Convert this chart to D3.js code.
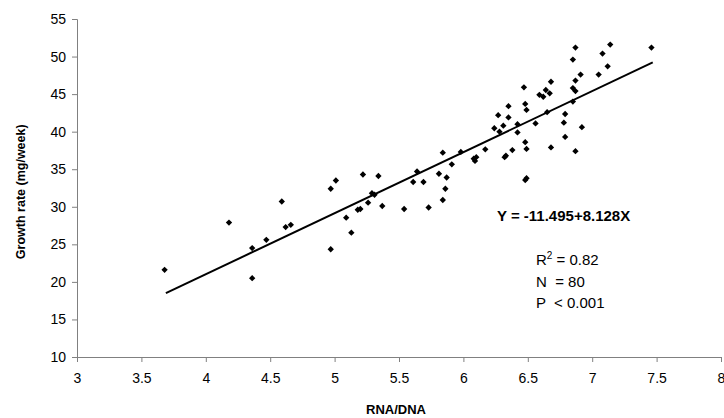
<!DOCTYPE html>
<html>
<head>
<meta charset="utf-8">
<script src="https://cdn.jsdelivr.net/npm/d3@7"></script>
<style>
  body { margin: 0; background: #fff; }
  svg { display: block; font-family: "Liberation Sans", Arial, sans-serif; }
  .axis path, .axis line { stroke: #808080; }
  .axis text { fill: #000; font-size: 14px; }
</style>
</head>
<body>
<svg width="724" height="418"></svg>
<script>
// RNA/DNA values (x)
const rnaDna = [
  3.68, 4.18, 4.36, 4.36, 4.47, 4.59, 4.62, 4.66, 4.97, 4.97,
  5.01, 5.09, 5.13, 5.18, 5.20, 5.22, 5.26, 5.29, 5.31, 5.34,
  5.37, 5.54, 5.61, 5.64, 5.69, 5.73, 5.81, 5.84, 5.84, 5.86,
  5.87, 5.91, 5.98, 6.08, 6.10, 6.09, 6.17, 6.24, 6.27, 6.28,
  6.31, 6.33, 6.32, 6.35, 6.35, 6.38, 6.42, 6.42, 6.47, 6.48,
  6.49, 6.48, 6.49, 6.48, 6.49, 6.56, 6.59, 6.62, 6.64, 6.67,
  6.65, 6.68, 6.68, 6.78, 6.79, 6.79, 6.85, 6.87, 6.85, 6.87,
  6.87, 6.91, 6.92, 6.87, 6.85, 7.05, 7.08, 7.12, 7.14, 7.46
];
// growth rate (mg/week), same order
const growth = [
  21.6, 27.9, 24.5, 20.5, 25.6, 30.7, 27.3, 27.6, 24.35, 32.4,
  33.5, 28.55, 26.55, 29.6, 29.7, 34.3, 30.55, 31.8, 31.6, 34.1,
  30.1, 29.7, 33.3, 34.7, 33.3, 29.9, 34.4, 37.2, 30.9, 32.4,
  33.9, 35.65, 37.3, 36.4, 36.6, 36.1, 37.65, 40.45, 42.2, 40.0,
  40.8, 36.8, 36.6, 43.4, 41.9, 37.55, 41.0, 39.9, 45.9, 43.7,
  42.9, 38.6, 37.7, 33.55, 33.8, 41.1, 44.9, 44.65, 45.55, 45.1,
  42.6, 46.65, 37.9, 41.2, 42.35, 39.3, 45.8, 45.4, 44.0, 46.8,
  37.4, 47.6, 40.6, 51.2, 49.6, 47.6, 50.4, 48.7, 51.6, 51.2
];
const xTicks = [3, 3.5, 4, 4.5, 5, 5.5, 6, 6.5, 7, 7.5, 8];
const yTicks = [10, 15, 20, 25, 30, 35, 40, 45, 50, 55];

// fitted line Y = a + bX
const intercept = -11.495, slope = 8.128;
const fitRange = [3.69, 7.47];

const points = rnaDna.map((x, i) => ({ x, y: growth[i] }));

const svg = d3.select("svg");
const margin = { left: 77, right: 3, top: 19, bottom: 61 };
const width = +svg.attr("width"), height = +svg.attr("height");

const x = d3.scaleLinear().domain([3, 8]).range([margin.left, width - margin.right]);
const y = d3.scaleLinear().domain([10, 55]).range([height - margin.bottom, margin.top]);

// axes
svg.append("g")
  .attr("class", "axis")
  .attr("transform", `translate(0,${y(10)})`)
  .call(d3.axisBottom(x).tickValues(xTicks).tickSize(5).tickPadding(11).tickFormat(d3.format("")));

svg.append("g")
  .attr("class", "axis")
  .attr("transform", `translate(${x(3)},0)`)
  .call(d3.axisLeft(y).tickValues(yTicks).tickSize(5).tickPadding(6));

// regression line
svg.append("line")
  .attr("x1", x(fitRange[0])).attr("y1", y(intercept + slope * fitRange[0]))
  .attr("x2", x(fitRange[1])).attr("y2", y(intercept + slope * fitRange[1]))
  .attr("stroke", "#000").attr("stroke-width", 2);

// points (small diamonds)
svg.append("g").selectAll("path")
  .data(points)
  .join("path")
  .attr("d", d3.symbol(d3.symbolSquare, 20))
  .attr("transform", d => `translate(${x(d.x)},${y(d.y)}) rotate(45)`)
  .attr("fill", "#000");

// axis titles
svg.append("text")
  .attr("x", (x(3) + x(8)) / 2 - 3).attr("y", 414)
  .attr("text-anchor", "middle")
  .attr("font-weight", "bold").attr("font-size", 13)
  .text("RNA/DNA");

svg.append("text")
  .attr("transform", `translate(25,${y(32)}) rotate(-90)`)
  .attr("text-anchor", "middle")
  .attr("font-weight", "bold").attr("font-size", 12.5)
  .text("Growth rate (mg/week)");

// equation and stats
svg.append("text")
  .attr("x", 497).attr("y", 221)
  .attr("font-weight", "bold").attr("font-size", 15)
  .text("Y = -11.495+8.128X");

const r2 = svg.append("text").attr("x", 536).attr("y", 265).attr("font-size", 15)
  .attr("xml:space", "preserve");
r2.append("tspan").text("R");
r2.append("tspan").attr("font-size", 10).attr("dy", -6).text("2");
r2.append("tspan").attr("dy", 6).text(" = 0.82");

svg.append("text").attr("x", 536).attr("y", 286.5).attr("font-size", 15)
  .attr("xml:space", "preserve").text("N  = 80");
svg.append("text").attr("x", 536).attr("y", 308).attr("font-size", 15)
  .attr("xml:space", "preserve").text("P  < 0.001");
</script>
</body>
</html>
